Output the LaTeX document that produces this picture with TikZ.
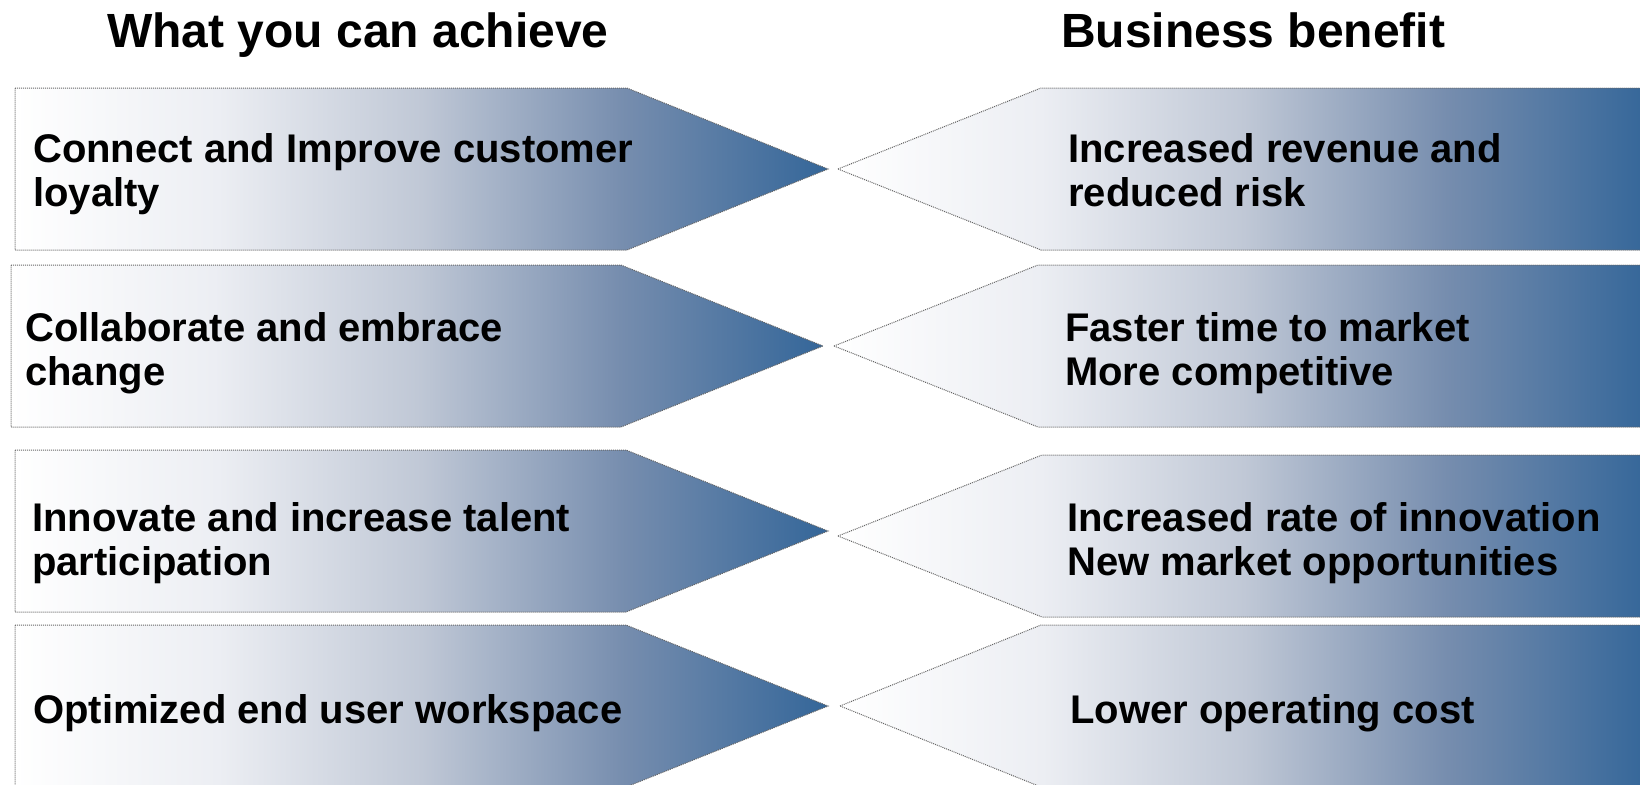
\documentclass[tikz,border=0pt]{standalone}
\usepackage{fontspec}
\setmainfont{Liberation Sans}
\definecolor{bb}{RGB}{52,102,153}
\definecolor{g1}{RGB}{236,238,243}
\definecolor{g2}{RGB}{192,200,214}
\definecolor{g3}{RGB}{118,141,174}
\pgfdeclarehorizontalshading{bluefade}{100bp}{color(0bp)=(white); color(25bp)=(white); color(37.5bp)=(g1); color(50bp)=(g2); color(62.5bp)=(g3); color(75bp)=(bb); color(100bp)=(bb)}
\begin{document}
\begin{tikzpicture}[x=1pt,y=-1pt,
  arrowbox/.style={shading=bluefade, draw=black!60, line width=1pt, dash pattern=on 1pt off 1pt},
  headline/.style={font=\fontsize{48}{52}\selectfont\bfseries, anchor=base west, inner sep=0},
  boxtext/.style={font=\fontsize{40}{44}\selectfont\bfseries, anchor=base west, inner sep=0, align=left}]
\useasboundingbox (0,0) rectangle (1640,784);
\clip (0,0) rectangle (1640,784);
% left arrows
\shadedraw[arrowbox] (15,88) -- (627,88) -- (828,169) -- (627,250) -- (15,250) -- cycle;
\shadedraw[arrowbox] (11,265) -- (621,265) -- (823,346) -- (621,427) -- (11,427) -- cycle;
\shadedraw[arrowbox] (15,450) -- (626,450) -- (828,531) -- (626,612) -- (15,612) -- cycle;
\shadedraw[arrowbox] (15,625) -- (626,625) -- (828,706) -- (626,787) -- (15,787) -- cycle;
% right arrows
\shadedraw[arrowbox] (838,169) -- (1041,88) -- (1650,88) -- (1650,250) -- (1041,250) -- cycle;
\shadedraw[arrowbox] (834,346) -- (1038,265) -- (1650,265) -- (1650,427) -- (1038,427) -- cycle;
\shadedraw[arrowbox] (838,536) -- (1042,455) -- (1650,455) -- (1650,617) -- (1042,617) -- cycle;
\shadedraw[arrowbox] (840,706) -- (1041,625) -- (1650,625) -- (1650,787) -- (1041,787) -- cycle;
% titles
\node[headline] (t1) at (107,48) {What you can achieve};
\node[headline] (t2) at (1061,48) {Business benefit};
% texts (base anchor = baseline of last line)
\node[boxtext] (a1) at (33,206) {Connect and Improve customer\\loyalty};
\node[boxtext] (a2) at (25,385) {Collaborate and embrace\\change};
\node[boxtext] (a3) at (32,575) {Innovate and increase talent\\participation};
\node[boxtext] (a4) at (33,723) {Optimized end user workspace};
\node[boxtext] (b1) at (1068,206) {Increased revenue and\\reduced risk};
\node[boxtext] (b2) at (1065,385) {Faster time to market\\More competitive};
\node[boxtext] (b3) at (1067,575) {Increased rate of innovation\\New market opportunities};
\node[boxtext] (b4) at (1070,723) {Lower operating cost};
\end{tikzpicture}
\end{document}
